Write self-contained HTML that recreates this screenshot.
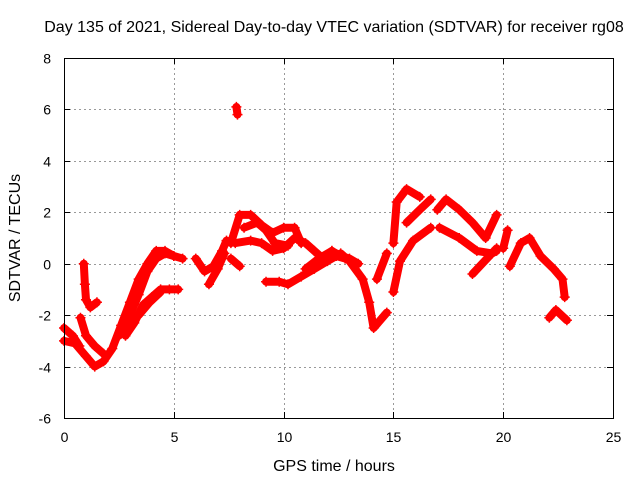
<!DOCTYPE html>
<html><head><meta charset="utf-8"><style>
body{margin:0;background:#fff}
svg{display:block;font-family:"Liberation Sans",sans-serif;font-size:14px}
</style></head><body>
<svg id="chart" width="640" height="480" viewBox="0 0 640 480">
<rect width="640" height="480" fill="#fff"/>
<text x="334" y="32" text-anchor="middle" font-size="16">Day 135 of 2021, Sidereal Day-to-day VTEC variation (SDTVAR) for receiver rg08</text>
<g id="grid"></g>
<g id="series"></g>
<rect x="64.5" y="58.5" width="549" height="360" fill="none" stroke="#000" stroke-width="1"/>
<g id="ticks"></g>
<text x="334" y="471" text-anchor="middle" font-size="16">GPS time / hours</text>
<text transform="translate(20,238) rotate(-90)" text-anchor="middle" font-size="16">SDTVAR / TECUs</text>
</svg>
<script>
const xTicks=[0,5,10,15,20,25];
const yTicks=[-6,-4,-2,0,2,4,6,8];
const trackA=[[0,-3.0],[0.5,-3.1],[1.0,-3.6],[1.4,-4.0],[1.8,-3.8],[2.2,-3.3],[2.6,-2.4],[3.0,-1.5],[3.4,-0.6],[3.8,0.0],[4.2,0.5],[4.6,0.5],[5.0,0.3],[5.4,0.2]];
const trackB=[[0,-2.5],[0.4,-2.8],[0.7,-3.2]];
const trackC=[[0.75,-2.1],[1.0,-2.8],[1.4,-3.2],[1.8,-3.5]];
const trackD=[[0.9,0.0],[0.95,-0.8],[1.0,-1.4],[1.2,-1.7],[1.5,-1.5]];
const trackE=[[2.5,-2.8],[3.0,-2.0],[3.4,-1.2],[3.8,-0.3],[4.2,0.2],[4.6,0.4],[5.0,0.3]];
const trackF=[[2.8,-2.8],[3.2,-2.3],[3.6,-1.6],[4.0,-1.3],[4.4,-1.0],[4.8,-1.0],[5.2,-1.0]];
const trackG=[[3.4,-2.0],[3.9,-1.5],[4.4,-1.1]];
const trackH=[[6.0,0.2],[6.4,-0.3],[6.8,-0.1],[7.2,0.5],[7.4,0.9]];
const trackI=[[6.6,-0.8],[7.0,-0.2],[7.3,0.4]];
const trackJ=[[7.85,6.1],[7.9,5.8]];
const trackK=[[7.6,0.2],[8.0,-0.1]];
const trackL=[[7.6,0.8],[8.0,1.9],[8.5,1.9],[9.0,1.5],[9.5,1.2],[10.0,1.4],[10.5,1.4],[10.8,0.8]];
const trackM=[[7.8,0.8],[8.5,0.9],[9.0,0.8],[9.5,0.5],[10.0,0.6],[10.5,1.0],[11.0,0.8],[11.4,0.5],[11.8,0.2],[12.2,0.5]];
const trackN=[[8.2,1.4],[8.8,1.6],[9.2,1.3],[9.6,0.8],[10.2,0.7]];
const trackO=[[9.2,-0.7],[9.8,-0.7],[10.2,-0.8],[10.8,-0.5],[11.4,-0.2],[12.0,0.1],[12.4,0.3],[12.8,0.2]];
const trackP=[[11.0,-0.2],[11.6,0.2],[12.2,0.5],[12.6,0.3],[13.0,0.2],[13.4,0.0]];
const trackQ=[[12.6,0.4],[13.0,0.1],[13.6,-0.6],[13.9,-1.5],[14.1,-2.5],[14.7,-1.9]];
const trackR=[[14.25,-0.6],[14.7,0.4]];
const trackS=[[15.0,-1.1],[15.3,0.1],[15.9,0.9],[16.7,1.4]];
const trackT=[[15.0,0.8],[15.15,2.4],[15.6,2.9],[16.2,2.6]];
const trackU=[[15.6,1.6],[16.2,2.1],[16.7,2.5]];
const trackV=[[17.0,2.1],[17.4,2.5],[18.0,2.1],[18.6,1.6],[19.2,1.0],[19.7,1.9]];
const trackW=[[17.1,1.4],[18.0,1.0],[18.8,0.5],[19.5,0.4],[19.7,0.5]];
const trackX=[[19.7,0.6],[18.6,-0.4]];
const trackY=[[20.0,0.6],[20.2,1.3]];
const trackZ=[[20.3,-0.1],[20.8,0.8],[21.2,1.0],[21.7,0.3],[22.3,-0.2],[22.7,-0.6],[22.8,-1.3]];
const trackAA=[[22.1,-2.1],[22.4,-1.8],[22.9,-2.2]];
const tracks=[trackA,trackB,trackC,trackD,trackE,trackF,trackG,trackH,trackI,trackJ,trackK,trackL,trackM,trackN,trackO,trackP,trackQ,trackR,trackS,trackT,trackU,trackV,trackW,trackX,trackY,trackZ,trackAA];

const NS="http://www.w3.org/2000/svg";
const X0=64,X1=613,Y0=418,Y1=58;
function xs(h){return X0+(h-0)/(25-0)*(X1-X0);}
function ys(v){return Y0-(v-(-6))/(8-(-6))*(Y0-Y1);}
function mk(tag,attrs){const e=document.createElementNS(NS,tag);for(const k in attrs)e.setAttribute(k,attrs[k]);return e;}
const grid=document.getElementById('grid'),ticks=document.getElementById('ticks'),ser=document.getElementById('series');
xTicks.forEach(t=>{
  const x=Math.round(xs(t))+0.5;
  if(t>0&&t<25){const g=mk('line',{x1:x,x2:x,y1:Y1,y2:Y0,stroke:'#999','stroke-dasharray':'2,3'});
  
  
  grid.appendChild(g);}
  const tk=mk('path',{d:`M${x} ${Y0}v-6M${x} ${Y1}v6`,stroke:'#000'});
  
  
  ticks.appendChild(tk);
  const l=mk('text',{x:x,y:Y0+24,'text-anchor':'middle'});l.textContent=t;
  
  
  ticks.appendChild(l);
});
yTicks.forEach(t=>{
  const y=Math.round(ys(t))+0.5;
  if(t>-6&&t<8){const g=mk('line',{x1:X0,x2:X1,y1:y,y2:y,stroke:'#999','stroke-dasharray':'2,3'});
  
  
  grid.appendChild(g);}
  const tk=mk('path',{d:`M${X0} ${y}h6M${X1} ${y}h-6`,stroke:'#000'});
  
  
  ticks.appendChild(tk);
  const l=mk('text',{x:X0-13,y:y+5,'text-anchor':'end'});l.textContent=t;
  
  
  ticks.appendChild(l);
});
tracks.forEach(tr=>{
  const pts=tr.map(p=>xs(p[0]).toFixed(1)+','+ys(p[1]).toFixed(1)).join(' ');
  const pl=mk('polyline',{points:pts,fill:'none',stroke:'#f00','stroke-width':8,'stroke-linejoin':'round','stroke-linecap':'round'});
  
  
  ser.appendChild(pl);
  tr.forEach(p=>{
    const x=xs(p[0]),y=ys(p[1]);
    const m=mk('path',{d:`M${x-5} ${y}h10M${x} ${y-5}v10`,stroke:'#f00','stroke-width':1.5});
    
    
    ser.appendChild(m);
  });
});
</script>
</body></html>
